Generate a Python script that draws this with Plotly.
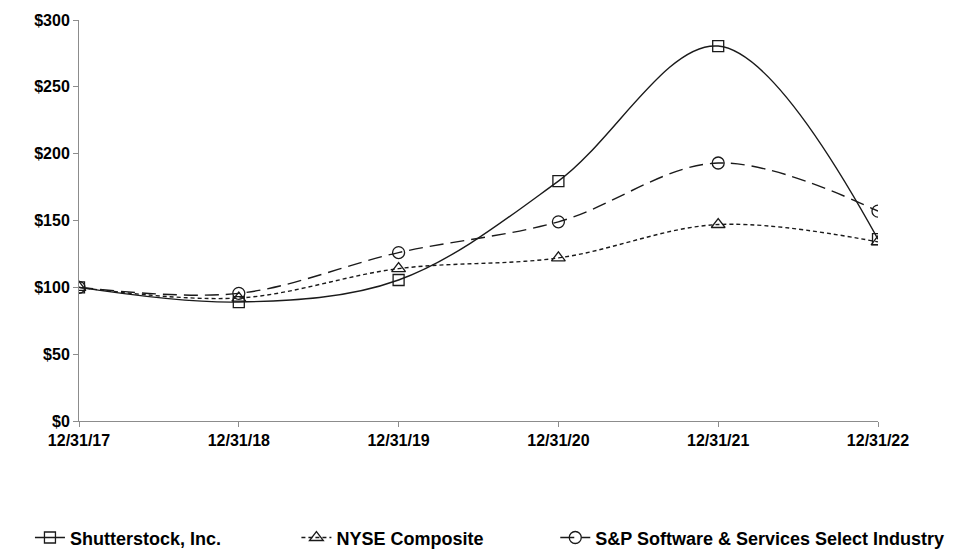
import plotly.graph_objects as go

dates = ["12/31/17", "12/31/18", "12/31/19", "12/31/20", "12/31/21", "12/31/22"]
shutterstock = [100, 89, 105.5, 179.5, 280.5, 136]
nyse = [100, 92, 114, 122, 147, 134]
sp_software = [100, 95.5, 126, 149, 193, 157]
y_ticks = [0, 50, 100, 150, 200, 250, 300]
y_tick_labels = ["$" + str(v) for v in y_ticks]

xs = list(range(len(dates)))
black = "#1a1a1a"

fig = go.Figure()
fig.add_trace(go.Scatter(
    x=xs, y=shutterstock, name="Shutterstock, Inc.", mode="lines+markers", legend="legend",
    line=dict(color=black, width=1.4, shape="spline", smoothing=1.0),
    marker=dict(symbol="square-open", size=11, color=black, line=dict(width=1.3)),
))
fig.add_trace(go.Scatter(
    x=xs, y=nyse, name="NYSE Composite", mode="lines+markers", legend="legend2",
    line=dict(color=black, width=1.4, shape="spline", smoothing=1.0, dash="4px,3px"),
    marker=dict(symbol="triangle-up-open", size=12, color=black, line=dict(width=1.3)),
))
fig.add_trace(go.Scatter(
    x=xs, y=sp_software, name="S&P Software & Services Select Industry", mode="lines+markers",
    legend="legend3",
    line=dict(color=black, width=1.4, shape="spline", smoothing=1.0, dash="14px,7px"),
    marker=dict(symbol="circle-open", size=12, color=black, line=dict(width=1.3)),
))

legend_font = dict(family="Liberation Sans, Arial", size=18, color="black", weight="bold")
def make_legend(xpos):
    return dict(
        orientation="h", xref="container", yref="container",
        x=xpos, xanchor="left", y=0.035, yanchor="middle",
        font=legend_font, bgcolor="rgba(0,0,0,0)",
    )

tick_font = dict(family="Liberation Sans, Arial", size=16, weight="bold", color="black")

fig.update_layout(
    width=963, height=549,
    margin=dict(l=71, r=93, t=12, b=136, autoexpand=False),
    paper_bgcolor="white", plot_bgcolor="white",
    font=dict(family="Liberation Sans, Arial", size=16, color="black"),
    showlegend=True,
    legend=make_legend(0.0228),
    legend2=make_legend(0.2995),
    legend3=make_legend(0.5683),
    xaxis=dict(
        range=[0, 5], tickvals=xs, ticktext=dates,
        showgrid=False, zeroline=False,
        showline=True, linecolor="#8c8c8c", linewidth=1,
        ticks="outside", tickcolor="#8c8c8c", ticklen=5,
        tickfont=tick_font,
    ),
    yaxis=dict(
        range=[0, 300], tickvals=y_ticks, ticktext=y_tick_labels,
        showgrid=False, zeroline=False,
        showline=True, linecolor="#8c8c8c", linewidth=1,
        ticks="outside", tickcolor="#8c8c8c", ticklen=5,
        tickfont=tick_font,
    ),
)

fig.write_html("out.html")
